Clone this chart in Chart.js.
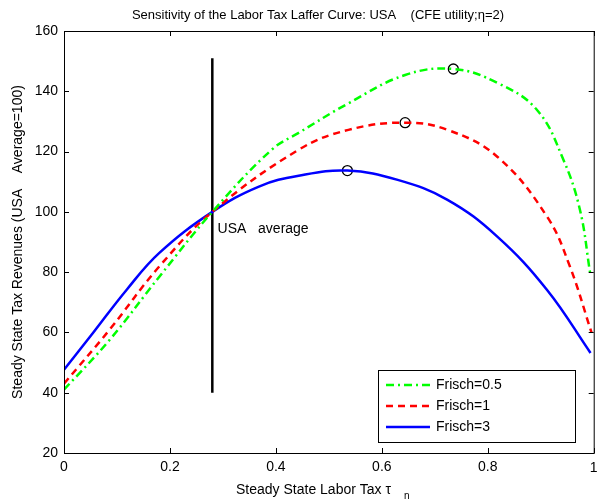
<!DOCTYPE html>
<html><head><meta charset="utf-8">
<script src="https://cdn.jsdelivr.net/npm/chart.js@4"></script>
<style>html,body{margin:0;background:#fff}#wrap{width:600px;height:504px}</style>
</head><body><div id="wrap"><canvas id="c"></canvas></div>
<script>
const frisch05X = [0, 0.086, 0.18, 0.28, 0.392, 0.443, 0.537, 0.644, 0.735, 0.818, 0.893, 0.943, 0.974, 0.993];
const frisch05Y = [41, 57.5, 78.5, 100, 120.6, 126.2, 136, 145.4, 147.4, 142.8, 133.8, 117.2, 100.7, 80];
const frisch1X = [0, 0.086, 0.18, 0.28, 0.443, 0.537, 0.644, 0.724, 0.818, 0.912, 0.955, 0.996];
const frisch1Y = [43, 60.9, 81.9, 100, 120.6, 127.2, 129.6, 127.2, 118.3, 98.4, 81.9, 59.9];
const frisch3X = [0, 0.055, 0.118, 0.18, 0.28, 0.368, 0.443, 0.535, 0.63, 0.724, 0.818, 0.912, 0.994];
const frisch3Y = [47.6, 59.9, 74.1, 86.4, 100, 108.4, 112, 113.7, 110.6, 104, 91.8, 74.1, 53.2];
const peakX = [0.735, 0.644, 0.535];
const peakY = [147.4, 129.6, 113.7];
const usaX = 0.28;
const usaLineY = [40, 151];
const labels = ['Frisch=0.5', 'Frisch=1', 'Frisch=3'];

const pts = (xs, ys) => xs.map((x, i) => ({ x, y: ys[i] }));

const FONT = 'Liberation Sans, Arial, sans-serif';

const decor = {
  id: 'decor',
  afterDraw(chart) {
    const { ctx, chartArea: a, scales: { x, y } } = chart;
    ctx.save();
    ctx.fillStyle = '#000';
    ctx.font = '13px ' + FONT;
    ctx.textAlign = 'center';
    ctx.fillText('Sensitivity of the Labor Tax Laffer Curve: USA    (CFE utility;\u03b7=2)', 318, 19);
    ctx.font = '14px ' + FONT;
    ctx.fillText('1', x.getPixelForValue(1), a.bottom + 19);
    ctx.textAlign = 'left';
    ctx.fillText('USA   average', x.getPixelForValue(0.29), y.getPixelForValue(93));
    // x title
    ctx.fillText('Steady State Labor Tax \u03c4', 236, 494);
    ctx.font = '10px ' + FONT;
    ctx.fillText('n', 404, 499);
    // y title
    ctx.font = '14px ' + FONT;
    ctx.translate(22, 242);
    ctx.rotate(-Math.PI / 2);
    ctx.textAlign = 'center';
    ctx.fillText('Steady State Tax Revenues (USA    Average=100)', 0, 0);
    ctx.restore();

    // legend
    ctx.save();
    const lx = 378, ly = 370, lw = 197, lh = 72;
    ctx.fillStyle = '#fff';
    ctx.fillRect(lx, ly, lw, lh);
    ctx.strokeStyle = '#000';
    ctx.lineWidth = 1;
    ctx.strokeRect(lx + 0.5, ly + 0.5, lw, lh);
    ctx.font = '14px ' + FONT;
    ctx.textBaseline = 'middle';
    chart.data.datasets.slice(0, 3).forEach((ds, i) => {
      const yy = ly + 15 + i * 21;
      ctx.strokeStyle = ds.borderColor;
      ctx.lineWidth = ds.borderWidth;
      ctx.setLineDash(ds.borderDash || []);
      ctx.beginPath();
      ctx.moveTo(lx + 8, yy);
      ctx.lineTo(lx + 52, yy);
      ctx.stroke();
      ctx.setLineDash([]);
      ctx.fillStyle = '#000';
      ctx.fillText(labels[i], lx + 58, yy);
    });
    ctx.restore();
  }
};

new Chart(document.getElementById('c'), {
  type: 'line',
  data: {
    datasets: [
      { data: pts(frisch05X, frisch05Y), borderColor: '#00ff00', borderWidth: 2.5, borderDash: [8, 4, 2, 4], pointRadius: 0, tension: 0.4 },
      { data: pts(frisch1X, frisch1Y), borderColor: '#ff0000', borderWidth: 2.5, borderDash: [7, 5], pointRadius: 0, tension: 0.4 },
      { data: pts(frisch3X, frisch3Y), borderColor: '#0000ff', borderWidth: 2.5, pointRadius: 0, tension: 0.4 },
      { data: pts(peakX, peakY), showLine: false, pointRadius: 5, pointBorderColor: '#000', pointBackgroundColor: 'rgba(0,0,0,0)', pointBorderWidth: 1.3, borderColor: '#000' },
      { data: pts([usaX, usaX], usaLineY), borderColor: '#000', borderWidth: 2.5, pointRadius: 0 }
    ]
  },
  options: {
    responsive: true,
    maintainAspectRatio: false,
    animation: false,
    layout: { padding: { top: 31, right: 3, left: 0, bottom: 0 } },
    plugins: { legend: { display: false }, tooltip: { enabled: false } },
    scales: {
      x: {
        type: 'linear', min: 0, max: 1,
        afterFit: (s) => { s.height = 51; },
        grid: { display: false, drawTicks: false },
        border: { color: '#000', width: 1 },
        ticks: { stepSize: 0.2, color: '#000', font: { size: 14, family: FONT }, padding: 6, maxRotation: 0,
          callback: (v) => v >= 0.999 ? '' : Number(v.toFixed(1)).toString() }
      },
      y: {
        min: 20, max: 160,
        afterFit: (s) => { s.width = 64; },
        grid: { display: false, drawTicks: false },
        border: { color: '#000', width: 1 },
        ticks: { stepSize: 20, color: '#000', font: { size: 14, family: FONT }, padding: 6 }
      }
    }
  },
  plugins: [decor, {
    id: 'frame',
    afterDraw(chart) {
      const { ctx, chartArea: a, scales: { x, y } } = chart;
      ctx.save();
      ctx.strokeStyle = '#000';
      ctx.lineWidth = 1;
      ctx.strokeRect(a.left + 0.5, a.top + 0.5, a.right - a.left, a.bottom - a.top);
      ctx.beginPath();
      for (let v = 0; v <= 1.0001; v += 0.2) {
        const px = Math.round(x.getPixelForValue(v)) + 0.5;
        ctx.moveTo(px, a.bottom); ctx.lineTo(px, a.bottom - 5);
        ctx.moveTo(px, a.top); ctx.lineTo(px, a.top + 5);
      }
      for (let v = 20; v <= 160; v += 20) {
        const py = Math.round(y.getPixelForValue(v)) + 0.5;
        ctx.moveTo(a.left, py); ctx.lineTo(a.left + 5, py);
        ctx.moveTo(a.right, py); ctx.lineTo(a.right - 5, py);
      }
      ctx.stroke();
      ctx.restore();
    }
  }]
});
</script>
</body></html>
